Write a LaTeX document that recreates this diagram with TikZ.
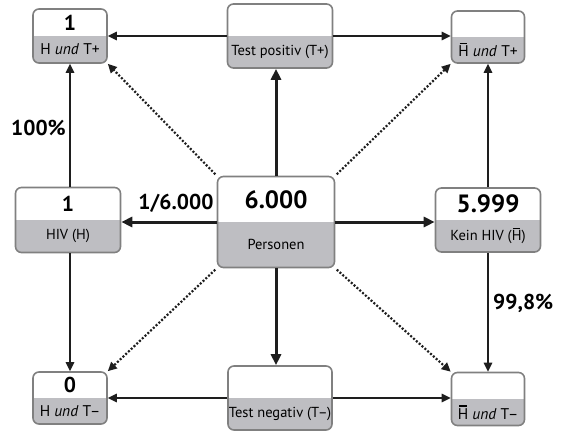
\documentclass[tikz,border=0pt]{standalone}
\usepackage{fontspec}
\setmainfont{PT Sans}
\usetikzlibrary{arrows.meta}

\definecolor{boxgrau}{RGB}{190,190,194}
\definecolor{randgrau}{RGB}{128,128,128}
\definecolor{pfeilfarbe}{RGB}{30,30,30}

\newcommand{\Hq}{{\setbox0\hbox{H}\rlap{\hspace{0.12\wd0}\rule[\dimexpr\ht0+1.6pt\relax]{0.76\wd0}{0.08em}}H}}
% Kasten: Name, x, y, Breite, Hoehe, Zahl, Text, Textstil, Zahlstil
\newcommand{\feld}[9]{%
  \node[feld, minimum width=#4pt, minimum height=#5pt] (#1) at (#2,#3) {};
  \node[#9] (#1-zahl) at ([yshift=#5pt/4]#1.center) {#6};
  \node[#8] (#1-text) at ([yshift=-#5pt/4]#1.center) {#7};
}

\tikzset{
  feld/.style={draw=randgrau, line width=1.6pt, rounded corners=6pt, fill=white, inner sep=0pt,
    path picture={\fill[boxgrau, sharp corners] (path picture bounding box.west) rectangle (path picture bounding box.south east);}},
  zahl/.style={font=\bfseries\fontsize{21.5}{21.5}\selectfont, inner sep=0pt},
  zahlgross/.style={font=\bfseries\fontsize{25}{25}\selectfont, inner sep=0pt},
  klein/.style={font=\fontsize{14.5}{15}\selectfont, inner sep=0pt},
  gross/.style={font=\fontsize{15.5}{16}\selectfont, inner sep=0pt},
  wert/.style={font=\bfseries\fontsize{21.5}{21.5}\selectfont, inner sep=0pt},
  pfeil/.style={draw=pfeilfarbe, line width=1.6pt, -{Triangle[length=9pt,width=8.5pt]}},
  dickpfeil/.style={pfeil, line width=3pt, -{Triangle[length=11pt,width=10pt]}},
  punktpfeil/.style={pfeil, line width=2.2pt, dash pattern=on 2pt off 1.8pt}
}

\begin{document}
\begin{tikzpicture}[x=1pt, y=-1pt]
    \useasboundingbox (0,0) rectangle (564,431);

    % Kaesten
    \feld{htp}{70}{36}{74}{54}{1}{H \textit{und} T+}{gross}{zahl}
    \feld{tpos}{280}{36}{105}{64}{}{Test positiv (T+)}{klein}{zahl}
    \feld{nhtp}{488}{37}{73}{52}{}{\Hq\ \textit{und} T+}{gross}{zahl}
    \feld{hiv}{68}{220}{105}{65}{1}{HIV (H)}{klein}{zahl}
    \feld{pers}{276}{222}{117}{91}{6.000}{Personen}{klein}{zahlgross}
    \feld{kein}{488}{220}{105}{64}{5.999}{Kein HIV (\Hq)}{klein}{zahlgross}
    \feld{htm}{70}{398}{74}{52}{0}{H \textit{und} T--}{gross}{zahl}
    \feld{tneg}{280}{398}{104}{64}{}{Test negativ (T--)}{klein}{zahl}
    \feld{nhtm}{488}{399}{73}{53}{}{\Hq\ \textit{und} T--}{gross}{zahl}

    % Pfeile
    \draw[pfeil] (tpos.west) -- (tpos.west -| htp.east);
    \draw[pfeil] (tpos.east) -- (tpos.east -| nhtp.west);
    \draw[pfeil] (tneg.west) -- (tneg.west -| htm.east);
    \draw[pfeil] (tneg.east) -- (tneg.east -| nhtm.west);
    \draw[pfeil] (hiv.north -| htp.south) -- (htp.south);
    \draw[pfeil] (hiv.south -| htm.north) -- (htm.north);
    \draw[pfeil] (kein.north) -- (kein.north |- nhtp.south);
    \draw[pfeil] (kein.south) -- (kein.south |- nhtm.north);
    \draw[dickpfeil] (pers.north) -- (pers.north |- tpos.south);
    \draw[dickpfeil] (pers.south) -- (pers.south |- tneg.north);
    \draw[dickpfeil] (pers.west) -- (pers.west -| hiv.east);
    \draw[dickpfeil] (pers.east) -- (pers.east -| kein.west);
    \draw[punktpfeil, shorten <=2pt] (pers.north west) -- (htp.south east);
    \draw[punktpfeil, shorten <=2pt] (pers.north east) -- (nhtp.south west);
    \draw[punktpfeil, shorten <=2pt] (pers.south west) -- (htm.north east);
    \draw[punktpfeil, shorten <=2pt] (pers.south east) -- (nhtm.north west);

    % Anteile
    \node[wert, anchor=east] (w100) at (66,128) {100\%};
    \node[wert] (w16000) at (176,203) {1/6.000};
    \node[wert, anchor=west] (w998) at (493,303) {99,8\%};
\end{tikzpicture}
\end{document}
